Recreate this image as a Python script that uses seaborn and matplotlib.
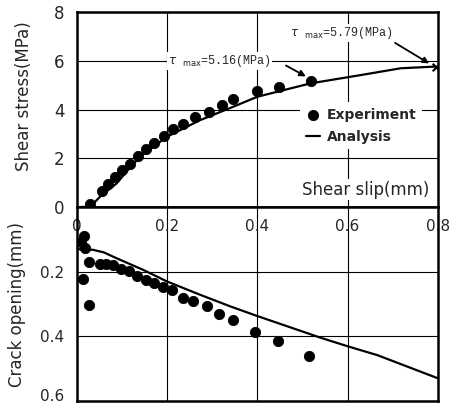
import numpy as np
import pandas as pd
import seaborn as sns
import matplotlib.pyplot as plt

# shear stress vs slip (top panel)
exp_slip = [0.029, 0.055, 0.070, 0.084, 0.100, 0.118, 0.135, 0.153, 0.172, 0.193,
            0.213, 0.235, 0.262, 0.292, 0.321, 0.347, 0.399, 0.449, 0.518]
exp_stress = [0.15, 0.67, 0.94, 1.22, 1.52, 1.79, 2.09, 2.37, 2.64, 2.92,
              3.19, 3.41, 3.68, 3.91, 4.20, 4.44, 4.78, 4.92, 5.17]
ana_slip = [0.0, 0.03, 0.051, 0.088, 0.11, 0.14, 0.2, 0.273, 0.34, 0.4, 0.518, 0.629, 0.718, 0.796]
ana_stress = [0.0, 0.02, 0.42, 0.97, 1.45, 2.07, 2.89, 3.57, 4.07, 4.53, 5.08, 5.42, 5.70, 5.77]

# crack opening vs slip (bottom panel)
exp_slip2 = [0.016, 0.010, 0.018, 0.027, 0.013, 0.027, 0.051, 0.064, 0.081, 0.097,
             0.116, 0.133, 0.153, 0.172, 0.190, 0.210, 0.235, 0.258, 0.288, 0.316,
             0.347, 0.394, 0.445, 0.514]
exp_open = [0.089, 0.107, 0.127, 0.170, 0.222, 0.304, 0.176, 0.176, 0.180, 0.190,
            0.197, 0.214, 0.225, 0.235, 0.247, 0.257, 0.281, 0.291, 0.307, 0.332,
            0.348, 0.386, 0.414, 0.461]
ana_slip2 = [0.0, 0.036, 0.06, 0.088, 0.147, 0.2, 0.273, 0.34, 0.396, 0.54, 0.599, 0.666, 0.799]
ana_open = [0.13, 0.132, 0.140, 0.158, 0.194, 0.23, 0.271, 0.307, 0.335, 0.404, 0.43, 0.458, 0.529]

tau_max_exp = (0.518, 5.16)
tau_max_ana = (0.796, 5.79)

sns.set_theme(style='white')
plt.rcParams['font.family'] = ['DejaVu Sans']

fig = plt.figure(figsize=(4.57, 4.07), dpi=100)
ax1 = fig.add_axes([0.168, 0.491, 0.79, 0.479])
ax2 = fig.add_axes([0.168, 0.0147, 0.79, 0.4763])

for ax in (ax1, ax2):
    for s in ax.spines.values():
        s.set_color('black')
        s.set_linewidth(1.8)
    ax.grid(True, color='black', linewidth=0.8)
    ax.set_axisbelow(True)
    ax.set_xlim(0, 0.8)
    ax.set_xticks([0, 0.2, 0.4, 0.6, 0.8])

# top panel
sns.lineplot(x=ana_slip, y=ana_stress, ax=ax1, color='black', linewidth=1.6,
             label='Analysis', sort=False)
sns.scatterplot(x=exp_slip, y=exp_stress, ax=ax1, color='black', s=55,
                edgecolor='black', label='Experiment', zorder=3)
ax1.scatter([ana_slip[-1]], [ana_stress[-1]], marker='x', color='black', s=30, linewidths=1.5, zorder=4)
ax1.set_ylim(0, 8)
ax1.set_yticks([0, 2, 4, 6, 8])
ax1.tick_params(axis='x', length=0, labelbottom=False)
ax1.tick_params(axis='y', length=0, pad=9, labelsize=12)
ax1.set_xlabel('')
ax1.set_ylabel('Shear stress(MPa)', fontsize=12)
ax1.yaxis.set_label_coords(-0.12, 0.57)

h, l = ax1.get_legend_handles_labels()
order = [l.index('Experiment'), l.index('Analysis')]
leg = ax1.legend([h[i] for i in order], [l[i] for i in order], loc='upper left',
                 bbox_to_anchor=(0.6, 0.575), frameon=True, framealpha=1,
                 facecolor='white', edgecolor='none', fancybox=False,
                 handlelength=1.0, handletextpad=0.5, labelspacing=0.6,
                 borderpad=0.4, prop={'size': 10, 'weight': 'bold'})

ax1.text(0.978, 0.09, 'Shear slip(mm)', transform=ax1.transAxes, ha='right', va='center',
         fontsize=12, bbox=dict(facecolor='white', edgecolor='none', pad=1))

mono = ['Liberation Mono', 'DejaVu Sans Mono']
ax1.text(0.202, 6.0, r'$\tau$ $_{\rm max}$=5.16(MPa)', fontsize=8.5, family=mono,
         ha='left', va='center',
         bbox=dict(facecolor='white', edgecolor='none', pad=0.5))
ax1.text(0.473, 7.15, r'$\tau$ $_{\rm max}$=5.79(MPa)', fontsize=8.5, family=mono,
         ha='left', va='center',
         bbox=dict(facecolor='white', edgecolor='none', pad=0.5))
ax1.annotate('', xy=(tau_max_exp[0] - 0.005, tau_max_exp[1] + 0.15), xytext=(0.458, 5.87),
             arrowprops=dict(arrowstyle='-|>', color='black', lw=1.3, mutation_scale=9))
ax1.annotate('', xy=(tau_max_ana[0] - 0.01, tau_max_ana[1] + 0.05), xytext=(0.70, 6.8),
             arrowprops=dict(arrowstyle='-|>', color='black', lw=1.3, mutation_scale=9))

# bottom panel
sns.lineplot(x=ana_slip2, y=ana_open, ax=ax2, color='black', linewidth=1.6, sort=False)
sns.scatterplot(x=exp_slip2, y=exp_open, ax=ax2, color='black', s=55,
                edgecolor='black', zorder=3)
ax2.set_ylim(0.6, 0)
ax2.set_yticks([0.2, 0.4, 0.6])
ax2.set_yticklabels(['0.2', '0.4', '0.6'])
ax2.xaxis.set_ticks_position('top')
ax2.set_xticklabels(['0', '0.2', '0.4', '0.6', '0.8'])
ax2.tick_params(axis='x', length=0, pad=-19, labeltop=True, labelbottom=False, labelsize=11)
ax2.tick_params(axis='y', length=0, pad=9, labelsize=11)
for t in ax2.get_yticklabels():
    if t.get_text() == '0.6':
        t.set_va('baseline')
ax2.set_ylabel('Crack opening(mm)', fontsize=12)
ax2.yaxis.set_label_coords(-0.14, 0.5)
ax2.set_xlabel('')

fig.savefig('out.png', dpi=100)
